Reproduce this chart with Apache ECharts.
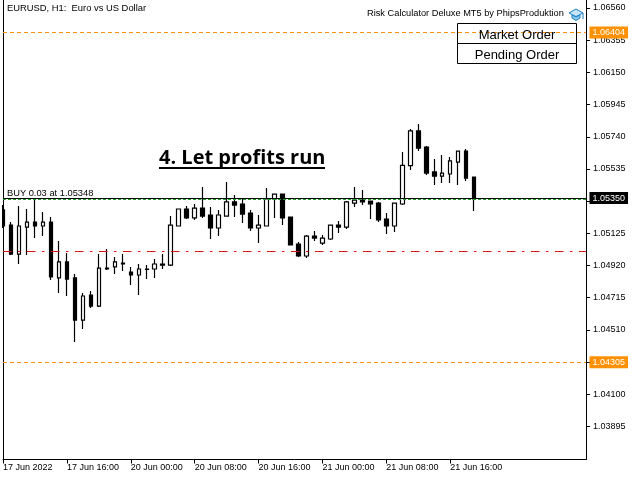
<!DOCTYPE html>
<html><head><meta charset="utf-8">
<style>html,body{margin:0;padding:0;background:#fff}#c{width:640px;height:480px}</style>
<script src="https://cdn.jsdelivr.net/npm/echarts@6/dist/echarts.min.js"></script>
</head><body><div id="c"></div>
<script>
const tickLabels = ["17 Jun 2022","17 Jun 16:00","20 Jun 00:00","20 Jun 08:00","20 Jun 16:00","21 Jun 00:00","21 Jun 08:00","21 Jun 16:00"];
const priceTicks = [1.06560,1.06355,1.06150,1.05945,1.05740,1.05535,1.05125,1.04920,1.04715,1.04510,1.04100,1.03895];
const priceTickMarks = [1.06560,1.06355,1.06150,1.05945,1.05740,1.05535,1.05330,1.05125,1.04920,1.04715,1.04510,1.04305,1.04100,1.03895];
// [open, close, low, high]
const candles = [
[1.05274,1.05172,1.05159,1.05305],[1.05178,1.04993,1.04987,1.05197],[1.04993,1.05172,1.0493,1.05299],[1.05165,1.05197,1.04987,1.0528],
[1.05197,1.05172,1.05095,1.0535],[1.05172,1.05197,1.05108,1.05261],[1.05197,1.04847,1.04828,1.05229],[1.04841,1.04943,1.04745,1.05076],
[1.04943,1.04834,1.04726,1.05],[1.04841,1.04573,1.04433,1.04866],[1.04573,1.04726,1.04516,1.04745],[1.04732,1.04662,1.0465,1.04758],
[1.04662,1.04904,1.04656,1.04993],[1.04904,1.04898,1.04892,1.05025],[1.04911,1.04943,1.04866,1.04974],[1.04936,1.0493,1.04885,1.04993],
[1.04879,1.0486,1.04796,1.04911],[1.0486,1.04898,1.04732,1.0493],[1.04898,1.04895,1.04834,1.04923],[1.04898,1.0493,1.04841,1.04962],
[1.0493,1.04923,1.04898,1.04993],[1.04923,1.05178,1.04917,1.05235],[1.05172,1.0528,1.05172,1.0528],[1.0528,1.05223,1.05216,1.05299],
[1.05223,1.05286,1.0521,1.05312],[1.05286,1.05235,1.05223,1.0542],[1.05242,1.05159,1.05089,1.05293],[1.05159,1.05242,1.05108,1.05274],
[1.05235,1.05325,1.05235,1.05452],[1.05325,1.05305,1.05229,1.05369],[1.05312,1.05248,1.05191,1.0535],[1.05254,1.05159,1.0514,1.05274],
[1.05159,1.05178,1.05063,1.05242],[1.05172,1.05344,1.05172,1.05414],[1.05344,1.05375,1.05223,1.05375],[1.05375,1.05223,1.05178,1.05375],
[1.05229,1.05051,1.05051,1.05229],[1.05057,1.04981,1.04974,1.0507],[1.04981,1.05108,1.04968,1.05114],[1.05108,1.05095,1.05076,1.0514],
[1.05063,1.05095,1.05051,1.05114],[1.05089,1.05178,1.05083,1.05178],[1.05178,1.05165,1.05127,1.05204],[1.05165,1.05325,1.05153,1.05331],
[1.05318,1.05337,1.05293,1.0542],[1.05337,1.05325,1.05305,1.05401],[1.05331,1.05312,1.05216,1.05331],[1.05318,1.0521,1.05197,1.05325],
[1.05216,1.05172,1.05121,1.05254],[1.05172,1.05318,1.05134,1.05318],[1.05312,1.05558,1.05305,1.05643],[1.05556,1.05777,1.05528,1.05789],
[1.05777,1.05668,1.05649,1.05821],[1.05675,1.05509,1.05496,1.05681],[1.05516,1.0549,1.05433,1.05598],[1.0549,1.05509,1.05446,1.05624],
[1.05503,1.05586,1.05446,1.05611],[1.05579,1.05649,1.05433,1.05649],[1.05649,1.05477,1.05458,1.05662],[1.05484,1.05344,1.05267,1.05484]
];
const barCount = 74;
const categories = Array.from({length:barCount},(_, i)=> i%8===0 && tickLabels[i/8] ? tickLabels[i/8] : '');
const bidPrice = 1.05350, orderPrice = 1.05343, stopPrice = 1.05013, upperPrice = 1.06404, lowerPrice = 1.04305;
const FONT = '"Liberation Sans", Arial, sans-serif';
const yMin = 1.03685, yMax = 1.06611;

const tag = (bg)=>({show:true,position:'end',distance:3.5,formatter:p=>p.value.toFixed(5),color:'#fff',backgroundColor:bg,
  fontFamily:FONT,fontSize:9,padding:[2,3,1,3]});
const noTag = {show:false};
const labelled = (i)=> i%8===0 && !!tickLabels[i/8];
const chart = echarts.init(document.getElementById('c'),null,{renderer:'canvas'});
chart.setOption({
  animation:false,
  backgroundColor:'#fff',
  grid:{left:2,right:54,top:0,bottom:20.5,containLabel:false},
  xAxis:{type:'category',data:categories,boundaryGap:false,
    axisLine:{lineStyle:{color:'#000',width:1}},
    axisTick:{show:true,interval:labelled,length:4,lineStyle:{color:'#000'}},
    axisLabel:{interval:labelled,align:'left',margin:4,color:'#000',fontFamily:FONT,fontSize:9,showMinLabel:true},
    splitLine:{show:false}},
  yAxis:[{type:'value',position:'right',min:yMin,max:yMax,scale:true,
    axisLine:{show:true,onZero:false,lineStyle:{color:'#000',width:1}},
    axisTick:{show:true,length:4,inside:false,customValues:priceTickMarks,lineStyle:{color:'#000'}},
    axisLabel:{show:true,margin:7,padding:[2,0,0,0],color:'#000',fontFamily:FONT,fontSize:9,customValues:priceTicks,formatter:v=>v.toFixed(5)},
    splitLine:{show:false}},
   {type:'value',position:'left',min:yMin,max:yMax,scale:true,
    axisLine:{show:true,onZero:false,lineStyle:{color:'#000',width:1}},
    axisTick:{show:false},axisLabel:{show:false},splitLine:{show:false}}],
  series:[{type:'candlestick',yAxisIndex:0,data:candles,barWidth:4,clip:true,
    itemStyle:{color:'#fff',color0:'#000',borderColor:'#000',borderColor0:'#000',borderWidth:1.2},
    markLine:{silent:true,symbol:'none',animation:false,precision:5,
      data:[
        {yAxis:orderPrice,lineStyle:{color:'#22a022',type:[3,2],width:1},label:noTag},
        {yAxis:bidPrice,lineStyle:{color:'#000',type:'solid',width:1},label:tag('#000')},
        {yAxis:stopPrice,lineStyle:{color:'#e01010',type:[8.5,6.5,2.5,6.5],width:1},label:noTag},
        {yAxis:upperPrice,lineStyle:{color:'#ff9100',type:[4,3],width:1},label:tag('#ff9100')},
        {yAxis:lowerPrice,lineStyle:{color:'#ff9100',type:[4,3],width:1},label:tag('#ff9100')}
      ]}}],
  graphic:[
    {type:'rect',z:50,shape:{x:0,y:0,width:2,height:459},style:{fill:'#fff'}},
    {type:'text',z:60,left:7,top:4,style:{text:'EURUSD, H1:  Euro vs US Dollar',fill:'#000',font:'9.4px '+FONT}},
    {type:'text',z:60,left:7,top:189,style:{text:'BUY 0.03 at 1.05348',fill:'#000',font:'9.3px '+FONT}},
    {type:'text',z:60,left:367,top:9,style:{text:'Risk Calculator Deluxe MT5 by PhipsProduktion',fill:'#000',font:'9.25px '+FONT}},
    {type:'text',z:60,left:159,top:148,style:{text:'4. Let profits run',fill:'#000',font:'bold 20px "Open Sans", sans-serif'}},
    {type:'rect',z:60,shape:{x:159,y:167,width:166,height:2},style:{fill:'#000'}},
    {type:'polygon',z:60,shape:{points:[[572,15],[572,18],[576,20.5],[580,18],[580,15],[576,17]]},style:{fill:'#8ccbef',stroke:'#1f7fc0',lineWidth:1}},
    {type:'polygon',z:60,shape:{points:[[569,13],[576,9],[583,13],[576,16.5]]},style:{fill:'#c5e6f8',stroke:'#1f7fc0',lineWidth:1}},
    {type:'line',z:60,shape:{x1:583,y1:13,x2:583,y2:19},style:{stroke:'#1f7fc0',lineWidth:1}},
    {type:'rect',z:60,shape:{x:457.5,y:23.5,width:119,height:20},style:{fill:'transparent',stroke:'#000',lineWidth:1}},
    {type:'rect',z:60,shape:{x:457.5,y:43.5,width:119,height:20},style:{fill:'transparent',stroke:'#000',lineWidth:1}},
    {type:'text',z:60,x:517,y:35,style:{text:'Market Order',fill:'#000',font:'13px '+FONT,align:'center',verticalAlign:'middle'}},
    {type:'text',z:60,x:517,y:55,style:{text:'Pending Order',fill:'#000',font:'13px '+FONT,align:'center',verticalAlign:'middle'}}
  ]
});
</script></body></html>
